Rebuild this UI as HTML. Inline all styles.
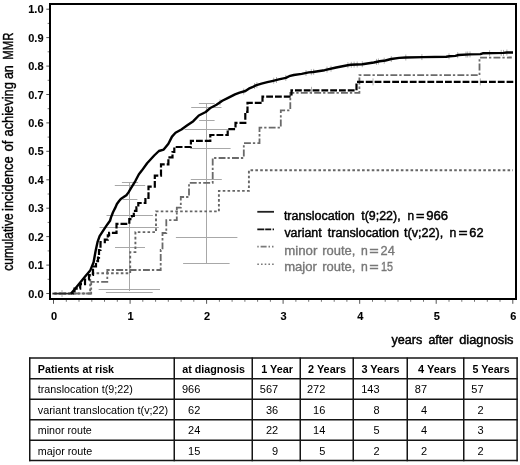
<!DOCTYPE html>
<html><head><meta charset="utf-8"><style>
html,body{margin:0;padding:0;background:#fff;}
body{width:520px;height:465px;overflow:hidden;}
svg{display:block;will-change:transform;}
</style></head><body>
<svg width="520" height="465" viewBox="0 0 520 465">
<rect width="520" height="465" fill="#fff"/>
<g stroke="#a8a8a8" stroke-width="1"><line x1="121.9" y1="182.5" x2="138.1" y2="182.5"/><line x1="114.8" y1="185.5" x2="145.2" y2="185.5"/><line x1="122.6" y1="199.5" x2="137.4" y2="199.5"/><line x1="106.5" y1="215.5" x2="152.9" y2="215.5"/><line x1="99.5" y1="227.5" x2="158.8" y2="227.5"/><line x1="115.0" y1="247.5" x2="145.0" y2="247.5"/><line x1="98.6" y1="289.5" x2="160.0" y2="289.5"/><line x1="105.9" y1="292.5" x2="152.7" y2="292.5"/><line x1="198.9" y1="103.5" x2="214.6" y2="103.5"/><line x1="191.2" y1="107.5" x2="221.5" y2="107.5"/><line x1="199.2" y1="120.5" x2="214.6" y2="120.5"/><line x1="184.6" y1="129.5" x2="228.5" y2="129.5"/><line x1="190.2" y1="148.5" x2="230.6" y2="148.5"/><line x1="190.8" y1="179.5" x2="221.8" y2="179.5"/><line x1="175.9" y1="237.5" x2="237.4" y2="237.5"/><line x1="183.1" y1="263.5" x2="229.6" y2="263.5"/><line x1="129.5" y1="182.5" x2="129.5" y2="291"/><line x1="206.5" y1="103.5" x2="206.5" y2="264"/></g>
<g stroke="#b0b0b0" stroke-width="1"><line x1="220.0" y1="99.4" x2="220.0" y2="105.4"/><line x1="243.7" y1="88.5" x2="243.7" y2="94.5"/><line x1="254.6" y1="83.0" x2="254.6" y2="89.0"/><line x1="256.9" y1="82.1" x2="256.9" y2="88.1"/><line x1="273.7" y1="77.7" x2="273.7" y2="83.7"/><line x1="276.5" y1="77.0" x2="276.5" y2="83.0"/><line x1="285.8" y1="74.9" x2="285.8" y2="80.9"/><line x1="306.0" y1="70.0" x2="306.0" y2="76.0"/><line x1="311.3" y1="69.2" x2="311.3" y2="75.2"/><line x1="313.7" y1="68.9" x2="313.7" y2="74.9"/><line x1="327.0" y1="66.6" x2="327.0" y2="72.6"/><line x1="331.0" y1="65.7" x2="331.0" y2="71.7"/><line x1="347.9" y1="62.2" x2="347.9" y2="68.2"/><line x1="351.3" y1="61.8" x2="351.3" y2="67.8"/><line x1="354.1" y1="61.6" x2="354.1" y2="67.6"/><line x1="357.2" y1="61.5" x2="357.2" y2="67.5"/><line x1="362.3" y1="61.2" x2="362.3" y2="67.2"/><line x1="376.5" y1="58.9" x2="376.5" y2="64.9"/><line x1="378.4" y1="58.5" x2="378.4" y2="64.5"/><line x1="384.2" y1="57.7" x2="384.2" y2="63.7"/><line x1="391.3" y1="56.0" x2="391.3" y2="62.0"/><line x1="405.8" y1="54.5" x2="405.8" y2="60.5"/><line x1="421.9" y1="54.1" x2="421.9" y2="60.1"/><line x1="449.0" y1="53.3" x2="449.0" y2="59.3"/><line x1="457.7" y1="52.2" x2="457.7" y2="58.2"/><line x1="466.0" y1="51.6" x2="466.0" y2="57.6"/><line x1="467.7" y1="51.5" x2="467.7" y2="57.5"/><line x1="470.0" y1="51.4" x2="470.0" y2="57.4"/><line x1="489.6" y1="50.2" x2="489.6" y2="56.2"/><line x1="501.2" y1="49.9" x2="501.2" y2="55.9"/><line x1="503.5" y1="49.9" x2="503.5" y2="55.9"/><line x1="506.9" y1="49.5" x2="506.9" y2="55.5"/><line x1="311.5" y1="86.8" x2="311.5" y2="93.8"/><line x1="373.0" y1="78.4" x2="373.0" y2="85.4"/><line x1="480.3" y1="78.4" x2="480.3" y2="85.4"/><line x1="62.0" y1="290.1" x2="62.0" y2="297.1"/></g>
<polyline points="52.5,293.5 90.2,293.5 90.2,273.3 130.2,273.3 130.2,252.1 135.4,252.1 135.4,232.1 156.0,232.1 156.0,211.4 218.9,211.4 218.9,190.9 248.9,190.9 248.9,170.2 513.0,170.2" fill="none" stroke="#666" stroke-width="1.9" stroke-dasharray="2.6 2.25" stroke-dashoffset="3.65"/>
<polyline points="52.5,293.5 91.2,293.5 91.2,281.8 107.3,281.8 107.3,270.0 160.7,270.0 160.7,250.0 162.5,250.0 162.5,233.0 166.3,233.0 166.3,220.2 176.8,220.2 176.8,207.6 180.8,207.6 180.8,197.0 189.0,197.0 189.0,182.8 212.7,182.8 212.7,158.0 243.8,158.0 243.8,143.2 259.5,143.2 259.5,127.7 280.8,127.7 280.8,110.4 290.3,110.4 290.3,92.8 359.4,92.8 359.4,75.2 479.5,75.2 479.5,57.7 511.8,57.5" fill="none" stroke="#6a6a6a" stroke-width="1.8" stroke-dasharray="6.9 2 2.3 2.2" stroke-dashoffset="6.6"/>
<polyline points="71.0,293.5 74.5,293.5 74.5,288.6 80.2,288.6 80.2,284.1 85.0,284.1 85.0,279.5 89.0,279.5 89.0,275.0 93.0,275.0 93.0,266.5 96.0,266.5 96.0,261.2 98.0,261.2 98.0,257.7 99.0,257.7 99.0,250.0 100.5,250.0 100.5,242.2 104.8,242.2 104.8,239.6 107.8,239.6 107.8,235.3 109.1,235.3 109.1,232.8 116.5,232.8 116.5,223.8 129.3,223.8 129.3,219.2 131.9,219.2 131.9,216.0 133.8,216.0 133.8,210.8 136.4,210.8 136.4,207.3 138.3,207.3 138.3,203.0 145.4,203.0 145.4,197.8 148.5,197.8 148.5,186.6 154.8,186.6 154.8,175.6 161.0,175.6 161.0,164.4 168.4,164.4 168.4,157.3 172.5,157.3 172.5,152.0 174.3,152.0 174.3,147.0 190.9,147.0 190.9,140.9 210.3,140.9 210.3,135.0 227.7,135.0 227.7,129.2 235.5,129.2 235.5,122.8 245.3,122.8 245.3,111.8 247.5,111.8 247.5,102.9 262.5,102.9 262.5,96.7 291.5,96.7 291.5,90.3 356.5,90.3 356.5,81.9 513.3,81.9" fill="none" stroke="#000" stroke-width="2.2" stroke-dasharray="6.8 2" stroke-dashoffset="4.0"/>
<line x1="52.5" y1="293.6" x2="72" y2="293.6" stroke="#2a2a2a" stroke-width="1.7"/>
<polyline points="71.0,293.5 74.5,289.5 78.4,284.8 84.3,277.6 90.2,270.6 93.6,262.2 95.6,251.0 97.5,242.2 99.6,236.2 104.0,229.4 107.5,224.2 110.0,220.8 111.0,217.4 113.0,212.2 115.2,207.9 116.9,204.0 119.1,201.0 120.8,198.9 122.9,197.6 126.4,195.2 128.5,192.4 131.3,187.7 135.2,181.3 138.9,174.2 141.8,170.6 147.1,163.2 154.2,155.5 158.9,151.0 163.7,149.6 168.4,143.7 172.0,136.6 175.5,132.8 181.4,129.5 187.3,125.3 193.3,121.2 198.8,115.5 205.7,112.0 210.8,107.7 216.5,104.8 222.3,100.8 228.1,97.9 235.0,94.4 239.6,92.7 245.4,91.0 248.8,88.7 252.3,87.2 255.8,85.4 261.5,83.7 267.3,82.2 273.1,80.8 278.8,79.4 285.8,77.9 289.2,76.2 293.8,75.0 301.7,73.9 308.8,72.4 313.1,72.0 324.6,70.2 336.2,67.5 347.7,65.2 350.8,64.8 362.3,64.2 373.8,62.5 379.6,61.3 385.4,60.5 391.2,59.0 399.2,57.9 405.8,57.5 423.1,57.1 446.2,56.7 449.6,56.2 455.4,55.9 458.5,55.0 470.0,54.4 480.4,54.1 482.7,53.3 503.5,52.9 506.9,52.5 513.0,52.5" fill="none" stroke="#000" stroke-width="2.4" stroke-linejoin="round"/>
<rect x="50" y="4" width="466" height="295" fill="none" stroke="#000" stroke-width="2"/>
<g stroke="#555" stroke-width="1"><line x1="46.3" y1="293.5" x2="49" y2="293.5"/><line x1="46.3" y1="265.1" x2="49" y2="265.1"/><line x1="46.3" y1="236.6" x2="49" y2="236.6"/><line x1="46.3" y1="208.2" x2="49" y2="208.2"/><line x1="46.3" y1="179.8" x2="49" y2="179.8"/><line x1="46.3" y1="151.3" x2="49" y2="151.3"/><line x1="46.3" y1="122.9" x2="49" y2="122.9"/><line x1="46.3" y1="94.5" x2="49" y2="94.5"/><line x1="46.3" y1="66.1" x2="49" y2="66.1"/><line x1="46.3" y1="37.6" x2="49" y2="37.6"/><line x1="46.3" y1="9.2" x2="49" y2="9.2"/><line x1="53.5" y1="300" x2="53.5" y2="303.8"/><line x1="130.1" y1="300" x2="130.1" y2="303.8"/><line x1="206.6" y1="300" x2="206.6" y2="303.8"/><line x1="283.1" y1="300" x2="283.1" y2="303.8"/><line x1="359.7" y1="300" x2="359.7" y2="303.8"/><line x1="436.2" y1="300" x2="436.2" y2="303.8"/><line x1="512.8" y1="300" x2="512.8" y2="303.8"/></g>
<g stroke="#777" stroke-width="1"><line x1="47.6" y1="279.3" x2="49" y2="279.3"/><line x1="47.6" y1="250.9" x2="49" y2="250.9"/><line x1="47.6" y1="222.4" x2="49" y2="222.4"/><line x1="47.6" y1="194.0" x2="49" y2="194.0"/><line x1="47.6" y1="165.6" x2="49" y2="165.6"/><line x1="47.6" y1="137.1" x2="49" y2="137.1"/><line x1="47.6" y1="108.7" x2="49" y2="108.7"/><line x1="47.6" y1="80.3" x2="49" y2="80.3"/><line x1="47.6" y1="51.8" x2="49" y2="51.8"/><line x1="47.6" y1="23.4" x2="49" y2="23.4"/><line x1="66.3" y1="300" x2="66.3" y2="301.8"/><line x1="79.0" y1="300" x2="79.0" y2="301.8"/><line x1="91.8" y1="300" x2="91.8" y2="301.8"/><line x1="104.5" y1="300" x2="104.5" y2="301.8"/><line x1="117.3" y1="300" x2="117.3" y2="301.8"/><line x1="142.8" y1="300" x2="142.8" y2="301.8"/><line x1="155.6" y1="300" x2="155.6" y2="301.8"/><line x1="168.3" y1="300" x2="168.3" y2="301.8"/><line x1="181.1" y1="300" x2="181.1" y2="301.8"/><line x1="193.8" y1="300" x2="193.8" y2="301.8"/><line x1="219.4" y1="300" x2="219.4" y2="301.8"/><line x1="232.1" y1="300" x2="232.1" y2="301.8"/><line x1="244.9" y1="300" x2="244.9" y2="301.8"/><line x1="257.6" y1="300" x2="257.6" y2="301.8"/><line x1="270.4" y1="300" x2="270.4" y2="301.8"/><line x1="295.9" y1="300" x2="295.9" y2="301.8"/><line x1="308.7" y1="300" x2="308.7" y2="301.8"/><line x1="321.4" y1="300" x2="321.4" y2="301.8"/><line x1="334.2" y1="300" x2="334.2" y2="301.8"/><line x1="346.9" y1="300" x2="346.9" y2="301.8"/><line x1="372.5" y1="300" x2="372.5" y2="301.8"/><line x1="385.2" y1="300" x2="385.2" y2="301.8"/><line x1="398.0" y1="300" x2="398.0" y2="301.8"/><line x1="410.7" y1="300" x2="410.7" y2="301.8"/><line x1="423.5" y1="300" x2="423.5" y2="301.8"/><line x1="449.0" y1="300" x2="449.0" y2="301.8"/><line x1="461.8" y1="300" x2="461.8" y2="301.8"/><line x1="474.5" y1="300" x2="474.5" y2="301.8"/><line x1="487.3" y1="300" x2="487.3" y2="301.8"/><line x1="500.0" y1="300" x2="500.0" y2="301.8"/></g>
<g font-family="Liberation Sans, sans-serif" font-weight="bold" font-size="11" fill="#000" stroke="#000" stroke-width="0.1"><text x="43.5" y="297.5" text-anchor="end">0.0</text><text x="43.5" y="269.1" text-anchor="end">0.1</text><text x="43.5" y="240.6" text-anchor="end">0.2</text><text x="43.5" y="212.2" text-anchor="end">0.3</text><text x="43.5" y="183.8" text-anchor="end">0.4</text><text x="43.5" y="155.3" text-anchor="end">0.5</text><text x="43.5" y="126.9" text-anchor="end">0.6</text><text x="43.5" y="98.5" text-anchor="end">0.7</text><text x="43.5" y="70.1" text-anchor="end">0.8</text><text x="43.5" y="41.6" text-anchor="end">0.9</text><text x="43.5" y="13.2" text-anchor="end">1.0</text><text x="54.0" y="319.6" text-anchor="middle">0</text><text x="130.6" y="319.6" text-anchor="middle">1</text><text x="207.1" y="319.6" text-anchor="middle">2</text><text x="283.6" y="319.6" text-anchor="middle">3</text><text x="360.2" y="319.6" text-anchor="middle">4</text><text x="436.8" y="319.6" text-anchor="middle">5</text><text x="513.3" y="319.6" text-anchor="middle">6</text></g>
<g transform="translate(13.2,0) rotate(-90)" font-family="Liberation Sans, sans-serif" font-size="13.9" fill="#000" stroke="#000" stroke-width="0.4"><text x="-270.7" y="0" textLength="57.3" lengthAdjust="spacingAndGlyphs" >cumulative</text><text x="-211.0" y="0" textLength="54.8" lengthAdjust="spacingAndGlyphs" >incidence</text><text x="-151.6" y="0" textLength="11.0" lengthAdjust="spacingAndGlyphs" >of</text><text x="-136.5" y="0" textLength="54.3" lengthAdjust="spacingAndGlyphs" >achieving</text><text x="-79.1" y="0" textLength="13.9" lengthAdjust="spacingAndGlyphs" >an</text><text x="-59.8" y="0" textLength="27.2" lengthAdjust="spacingAndGlyphs" >MMR</text></g>
<g font-family="Liberation Sans, sans-serif" font-size="12.8" fill="#000" stroke="#000" stroke-width="0.45"><text x="391.5" y="344.2" textLength="30.8" lengthAdjust="spacingAndGlyphs" >years</text><text x="428.4" y="344.2" textLength="24.7" lengthAdjust="spacingAndGlyphs" >after</text><text x="459.2" y="344.2" textLength="54.3" lengthAdjust="spacingAndGlyphs" >diagnosis</text></g>
<line x1="257.3" y1="211.8" x2="274" y2="211.8" stroke="#222" stroke-width="1.8"/>
<line x1="257.3" y1="229.4" x2="274" y2="229.4" stroke="#111" stroke-width="1.8" stroke-dasharray="7 0.9 6 1.4 1.4 20"/>
<line x1="257.3" y1="246.6" x2="274" y2="246.6" stroke="#7a7a7a" stroke-width="1.6" stroke-dasharray="1.4 1.9 6 1.9 1.5 2 1.5 20"/>
<line x1="257.3" y1="264.3" x2="274" y2="264.3" stroke="#7a7a7a" stroke-width="1.6" stroke-dasharray="1.6 2.1"/>
<g font-family="Liberation Sans, sans-serif" font-size="12.5" fill="#000" stroke="#000" stroke-width="0.45"><text x="283.9" y="219.5" textLength="70.9" lengthAdjust="spacingAndGlyphs" >translocation</text><text x="361.3" y="219.5" textLength="39.3" lengthAdjust="spacingAndGlyphs" >t(9;22),</text><text x="407.4" y="219.5" textLength="6.6" lengthAdjust="spacingAndGlyphs" >n</text><text x="416.1" y="219.5" textLength="8.5" lengthAdjust="spacingAndGlyphs" >=</text><text x="426.2" y="219.5" textLength="21.9" lengthAdjust="spacingAndGlyphs" >966</text><text x="284.4" y="237" textLength="37.3" lengthAdjust="spacingAndGlyphs" >variant</text><text x="327.7" y="237" textLength="71.4" lengthAdjust="spacingAndGlyphs" >translocation</text><text x="404.0" y="237" textLength="39.3" lengthAdjust="spacingAndGlyphs" >t(v;22),</text><text x="449.4" y="237" textLength="6.8" lengthAdjust="spacingAndGlyphs" >n</text><text x="458.4" y="237" textLength="9.1" lengthAdjust="spacingAndGlyphs" >=</text><text x="469.3" y="237" textLength="14.2" lengthAdjust="spacingAndGlyphs" >62</text></g>
<g font-family="Liberation Sans, sans-serif" font-size="12.4" fill="#777" stroke="#777" stroke-width="0.35"><text x="284.2" y="254.5" textLength="33.1" lengthAdjust="spacingAndGlyphs" >minor</text><text x="322.3" y="254.5" textLength="33.1" lengthAdjust="spacingAndGlyphs" >route,</text><text x="361.1" y="254.5" textLength="6.8" lengthAdjust="spacingAndGlyphs" >n</text><text x="369.3" y="254.5" textLength="9.5" lengthAdjust="spacingAndGlyphs" >=</text><text x="380.6" y="254.5" textLength="14.2" lengthAdjust="spacingAndGlyphs" >24</text><text x="284.2" y="271.3" textLength="32.7" lengthAdjust="spacingAndGlyphs" >major</text><text x="322.3" y="271.3" textLength="33.1" lengthAdjust="spacingAndGlyphs" >route,</text><text x="361.1" y="271.3" textLength="6.8" lengthAdjust="spacingAndGlyphs" >n</text><text x="369.3" y="271.3" textLength="9.5" lengthAdjust="spacingAndGlyphs" >=</text><text x="381.0" y="271.3" textLength="12.0" lengthAdjust="spacingAndGlyphs" >15</text></g>
<g stroke="#151515" stroke-width="1.5"><line x1="29.75" y1="357.40000000000003" x2="29.75" y2="461.3"/><line x1="174.25" y1="357.40000000000003" x2="174.25" y2="461.3"/><line x1="252.25" y1="357.40000000000003" x2="252.25" y2="461.3"/><line x1="300.25" y1="357.40000000000003" x2="300.25" y2="461.3"/><line x1="353.25" y1="357.40000000000003" x2="353.25" y2="461.3"/><line x1="407.25" y1="357.40000000000003" x2="407.25" y2="461.3"/><line x1="463.75" y1="357.40000000000003" x2="463.75" y2="461.3"/><line x1="517.1" y1="357.40000000000003" x2="517.1" y2="461.3"/><line x1="29.05" y1="358.1" x2="517.8000000000001" y2="358.1"/><line x1="29.05" y1="378.7" x2="517.8000000000001" y2="378.7"/><line x1="29.05" y1="399.25" x2="517.8000000000001" y2="399.25"/><line x1="29.05" y1="419.8" x2="517.8000000000001" y2="419.8"/><line x1="29.05" y1="440.3" x2="517.8000000000001" y2="440.3"/><line x1="29.05" y1="460.6" x2="517.8000000000001" y2="460.6"/></g>
<g font-family="Liberation Sans, sans-serif" font-size="11" fill="#000"><text x="37.8" y="372.5" font-weight="bold" textLength="76.3" lengthAdjust="spacingAndGlyphs">Patients at risk</text><text x="182.3" y="372.5" font-weight="bold" textLength="62.6" lengthAdjust="spacingAndGlyphs">at diagnosis</text><text x="261.2" y="372.5" font-weight="bold" textLength="31.7" lengthAdjust="spacingAndGlyphs">1 Year</text><text x="308.1" y="372.5" font-weight="bold" textLength="37.9" lengthAdjust="spacingAndGlyphs">2 Years</text><text x="361.4" y="372.5" font-weight="bold" textLength="38.1" lengthAdjust="spacingAndGlyphs">3 Years</text><text x="418" y="372.5" font-weight="bold" textLength="38.3" lengthAdjust="spacingAndGlyphs">4 Years</text><text x="472.6" y="372.5" font-weight="bold" textLength="37" lengthAdjust="spacingAndGlyphs">5 Years</text><text x="37.8" y="393.2" textLength="95" lengthAdjust="spacingAndGlyphs">translocation t(9;22)</text><text x="37.8" y="413.6" textLength="130.4" lengthAdjust="spacingAndGlyphs">variant translocation t(v;22)</text><text x="37.8" y="434.2" textLength="54" lengthAdjust="spacingAndGlyphs">minor route</text><text x="37.8" y="454.7" textLength="54.5" lengthAdjust="spacingAndGlyphs">major route</text><text x="200.3" y="393.2" text-anchor="end">966</text><text x="278.2" y="393.2" text-anchor="end">567</text><text x="325.3" y="393.2" text-anchor="end">272</text><text x="379.6" y="393.2" text-anchor="end">143</text><text x="427.1" y="393.2" text-anchor="end">87</text><text x="483.6" y="393.2" text-anchor="end">57</text><text x="200.3" y="413.6" text-anchor="end">62</text><text x="278.2" y="413.6" text-anchor="end">36</text><text x="325.3" y="413.6" text-anchor="end">16</text><text x="379.6" y="413.6" text-anchor="end">8</text><text x="427.1" y="413.6" text-anchor="end">4</text><text x="483.6" y="413.6" text-anchor="end">2</text><text x="200.3" y="434.2" text-anchor="end">24</text><text x="278.2" y="434.2" text-anchor="end">22</text><text x="325.3" y="434.2" text-anchor="end">14</text><text x="379.6" y="434.2" text-anchor="end">5</text><text x="427.1" y="434.2" text-anchor="end">4</text><text x="483.6" y="434.2" text-anchor="end">3</text><text x="200.3" y="454.7" text-anchor="end">15</text><text x="278.2" y="454.7" text-anchor="end">9</text><text x="325.3" y="454.7" text-anchor="end">5</text><text x="379.6" y="454.7" text-anchor="end">2</text><text x="427.1" y="454.7" text-anchor="end">2</text><text x="483.6" y="454.7" text-anchor="end">2</text></g>
</svg>
</body></html>
